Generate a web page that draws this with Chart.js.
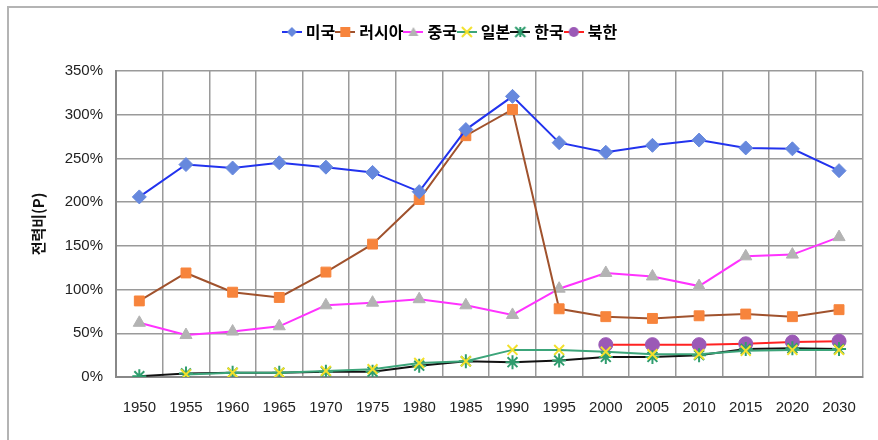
<!DOCTYPE html>
<html>
<head>
<meta charset="utf-8">
<script src="https://cdn.jsdelivr.net/npm/chart.js@4.4.0/dist/chart.umd.min.js"></script>
<style>
  html, body { margin: 0; padding: 0; background: #fff; }
  #wrap { position: relative; width: 878px; height: 440px; overflow: hidden; }
  #frame { position: absolute; left: 7px; top: 6px; width: 900px; height: 460px; border-left: 2px solid #b4b4b4; border-top: 2px solid #b4b4b4; }
  canvas { position: absolute; left: 0; top: 0; }
</style>
</head>
<body>
<div id="wrap">
  <div id="frame"></div>
  <canvas id="myChart" width="878" height="440"></canvas>
</div>
<script>
var years = ['1950', '1955', '1960', '1965', '1970', '1975', '1980', '1985', '1990', '1995', '2000', '2005', '2010', '2015', '2020', '2030'];

var usa    = [206, 243, 239, 245, 240, 234, 212, 283, 321, 268, 257, 265, 271, 262, 261, 236];
var russia = [87, 119, 97, 91, 120, 152, 203, 276, 306, 78, 69, 67, 70, 72, 69, 77];
var china  = [62, 48, 52, 58, 82, 85, 89, 82, 71, 101, 119, 115, 104, 138, 140, 160];
var japan  = [null, 3, 5, 5, 7, 9, 16, 18, 31, 31, 29, 26, 26, 30, 31, 31];
var korea  = [1, 4, 5, 5, 6, 6, 13, 18, 17, 19, 23, 23, 25, 32, 33, 32];
var nkorea = [null, null, null, null, null, null, null, null, null, null, 37, 37, 37, 38, 40, 41];

var names = ['미국', '러시아', '중국', '일본', '한국', '북한'];
var yTicks = [0, 50, 100, 150, 200, 250, 300, 350];

var ctx = document.getElementById("myChart").getContext('2d');

function drawMarker(c, style, x, y, r, fill){
    c.fillStyle = fill;
    c.strokeStyle = fill;
    c.lineWidth = 2;
    c.beginPath();
    if(style === 'rectRot'){
        c.moveTo(x, y - r); c.lineTo(x + r, y); c.lineTo(x, y + r); c.lineTo(x - r, y); c.closePath(); c.fill();
    }else if(style === 'rect'){
        c.fillRect(x - r, y - r, 2 * r, 2 * r);
    }else if(style === 'triangle'){
        c.moveTo(x, y - r); c.lineTo(x + r, y + r * 0.8); c.lineTo(x - r, y + r * 0.8); c.closePath(); c.fill();
    }else if(style === 'crossRot'){
        c.moveTo(x - r, y - r); c.lineTo(x + r, y + r); c.moveTo(x + r, y - r); c.lineTo(x - r, y + r); c.stroke();
    }else if(style === 'star'){
        c.moveTo(x - r, y - r); c.lineTo(x + r, y + r); c.moveTo(x + r, y - r); c.lineTo(x - r, y + r);
        c.moveTo(x, y - r); c.lineTo(x, y + r); c.stroke();
    }else{
        c.arc(x, y, r, 0, Math.PI * 2); c.fill();
    }
}

function legendIcon(lineColor, style, markColor){
    var cv = document.createElement('canvas');
    cv.width = 20; cv.height = 14;
    var c = cv.getContext('2d');
    c.strokeStyle = lineColor;
    c.lineWidth = 2;
    c.beginPath(); c.moveTo(0, 7); c.lineTo(20, 7); c.stroke();
    drawMarker(c, style, 10, 7, 5, markColor);
    return cv;
}

function makeSet(label, data, lineColor, style, markColor, radius){
    return {
        label: label,
        data: data,
        borderColor: lineColor,
        borderWidth: 2,
        backgroundColor: markColor,
        pointStyle: style,
        pointRadius: radius,
        pointBorderColor: markColor,
        pointBackgroundColor: markColor,
        pointBorderWidth: (style === 'crossRot' || style === 'star') ? 2 : 1,
        fill: false,
        tension: 0,
        spanGaps: false,
        icon: legendIcon(lineColor, style, markColor)
    };
}

var datasets = [
    makeSet(names[0], usa, '#2233ee', 'rectRot', '#6688dd', 7),
    makeSet(names[1], russia, '#a0522d', 'rect', '#f7843c', 7),
    makeSet(names[2], china, '#ff33ff', 'triangle', '#b3b3b3', 7),
    makeSet(names[3], japan, '#3ca57a', 'crossRot', '#f2e02a', 7),
    makeSet(names[4], korea, '#111111', 'star', '#2f9d6e', 7),
    makeSet(names[5], nkorea, '#ff2222', 'circle', '#9b59b6', 7)
];

// fixed legend height so the plot starts where the reference's does
var legendSize = {
    id: 'legendSize',
    beforeInit: function(chart){
        var fit = chart.legend.fit;
        chart.legend.fit = function(){
            fit.bind(chart.legend)();
            this.height = 51;
        };
    }
};

var tickFont = { family: "'Liberation Sans', Arial, sans-serif", size: 15 };

var myChart = new Chart(ctx, {
    type: 'line',
    data: { labels: years, datasets: datasets },
    plugins: [legendSize],
    options: {
        responsive: false,
        animation: false,
        layout: { padding: { top: 20, right: 4, left: 29, bottom: 0 } },
        plugins: {
            tooltip: { enabled: false },
            legend: {
                position: 'top',
                labels: {
                    usePointStyle: true,
                    pointStyleWidth: 12,
                    boxHeight: 14,
                    padding: 4,
                    color: '#111',
                    font: { family: "'Noto Sans CJK KR', sans-serif", size: 16, weight: 'bold' },
                    generateLabels: function(chart){
                        return chart.data.datasets.map(function(ds, i){
                            return { text: ds.label, pointStyle: ds.icon, datasetIndex: i, fillStyle: ds.borderColor, strokeStyle: ds.borderColor, lineWidth: 0, hidden: false };
                        });
                    }
                }
            }
        },
        scales: {
            x: {
                offset: true,
                grid: { offset: true, color: '#9a9a9a', lineWidth: 1.5, drawTicks: false },
                border: { color: '#888', width: 2 },
                ticks: { color: '#222', font: tickFont, padding: 22, maxRotation: 0, autoSkip: false },
                afterFit: function(s){ s.height = 63; }
            },
            y: {
                min: 0,
                max: 350,
                afterBuildTicks: function(s){ s.ticks = yTicks.map(function(v){ return { value: v }; }); },
                grid: { color: '#9a9a9a', lineWidth: 1.5, drawTicks: false },
                border: { color: '#888', width: 2 },
                ticks: { color: '#222', font: tickFont, padding: 13, callback: function(v){ return v + '%'; } },
                title: { display: true, text: '전력비(P)', color: '#111', font: { family: "'Noto Sans CJK KR', sans-serif", size: 15, weight: 'bold' }, padding: { top: 0, bottom: 8 } },
                afterFit: function(s){ s.width = 87; }
            }
        }
    }
});
</script>
</body>
</html>
